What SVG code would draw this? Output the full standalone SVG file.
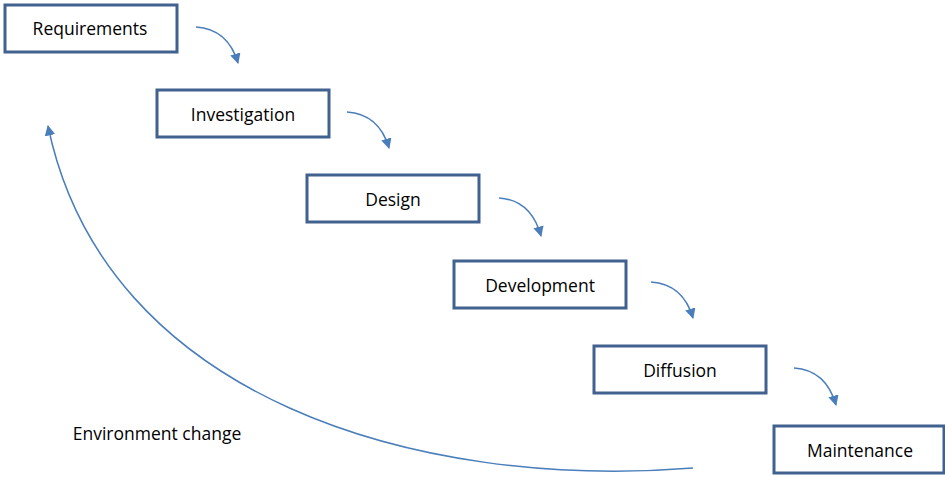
<svg xmlns="http://www.w3.org/2000/svg" width="945" height="477" viewBox="0 0 945 477">
<defs>
<marker id="ah" viewBox="0 0 10 10" refX="9" refY="5" markerWidth="7" markerHeight="7" orient="auto" markerUnits="strokeWidth">
<path d="M0,0 L10,5 L0,10 z" fill="#4a7ebb"/>
</marker>
<style>
.box{fill:#fff;stroke:#41618f;stroke-width:3}
.lbl{font-family:"Open Sans","Liberation Sans",sans-serif;font-size:17.5px;fill:#000;text-anchor:middle;dominant-baseline:central}
.c{fill:none;stroke:#4a7ebb;stroke-width:1.5;marker-end:url(#ah)}
</style>
</defs>
<rect width="945" height="477" fill="#fff"/>
<g id="connectors">
<path class="c" d="M196,27 Q228,29 238,63"/>
<path class="c" d="M347,112 Q379,114 389,148"/>
<path class="c" d="M499,198 Q531,200 541,236"/>
<path class="c" d="M651,282 Q683,284 693,318"/>
<path class="c" d="M794,368 Q826,370 836,405"/>
<path class="c" d="M693,468 C420,490 105,400 48,126"/>
</g>
<g id="n1"><rect class="box" x="5" y="5" width="172" height="47"/><text class="lbl" x="90" y="28">Requirements</text></g>
<g id="n2"><rect class="box" x="157" y="90" width="172" height="47"/><text class="lbl" x="243" y="114">Investigation</text></g>
<g id="n3"><rect class="box" x="307" y="175" width="172" height="47"/><text class="lbl" x="393" y="199">Design</text></g>
<g id="n4"><rect class="box" x="454" y="261" width="172" height="47"/><text class="lbl" x="540" y="285">Development</text></g>
<g id="n5"><rect class="box" x="594" y="346" width="172" height="47"/><text class="lbl" x="680" y="370">Diffusion</text></g>
<g id="n6"><rect class="box" x="774" y="426" width="170" height="47"/><text class="lbl" x="860" y="450">Maintenance</text></g>
<text id="env" class="lbl" x="157" y="433">Environment change</text>
</svg>
